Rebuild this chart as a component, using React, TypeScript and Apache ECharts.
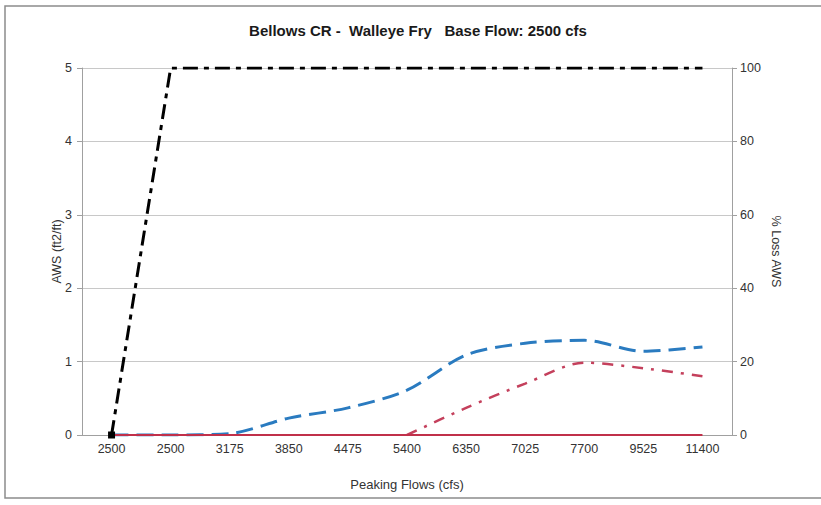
import React, { useEffect, useRef } from "react";
import * as echarts from "echarts";

const categories = ["2500", "2500", "3175", "3850", "4475", "5400", "6350", "7025", "7700", "9525", "11400"];
const awsValues = [0, 0, 0.02, 0.23, 0.37, 0.61, 1.09, 1.25, 1.29, 1.14, 1.2];
const redDashDotValues = [null, null, null, null, null, 0, 7.4, 14, 19.7, 18.2, 16];
const redSolidValues = [0, 0, 0, 0, 0, 0, 0, 0, 0, 0, 0];
const lossValues = [0, 100, 100, 100, 100, 100, 100, 100, 100, 100, 100];
const leftTicks = [0, 1, 2, 3, 4, 5];
const rightTicks = [0, 20, 40, 60, 80, 100];

const FONT = "Liberation Sans, Arial, sans-serif";

export default function App() {
  const ref = useRef<HTMLDivElement>(null);
  useEffect(() => {
    if (!ref.current) return;
    const chart = echarts.init(ref.current, null, { renderer: "svg" });
    const lossData = lossValues.map((v, i) =>
      i === 0 ? { value: v, symbol: "rect", symbolSize: 7 } : { value: v, symbol: "none" }
    );
    chart.setOption({
      animation: false,
      backgroundColor: "#ffffff",
      textStyle: { fontFamily: FONT },
      graphic: [
        {
          type: "polyline",
          shape: { points: [[830, 6], [5, 6], [5, 498], [830, 498]] },
          style: { stroke: "#8c8c8c", fill: "none", lineWidth: 1.5 },
          silent: true,
        },
        {
          type: "text",
          x: 418,
          y: 30,
          style: {
            text: "Bellows CR -  Walleye Fry   Base Flow: 2500 cfs",
            fontFamily: FONT,
            fontSize: 15,
            fontWeight: "bold",
            fill: "#1a1a1a",
            align: "center",
            verticalAlign: "middle",
          },
        },
      ],
      grid: { left: 82, right: 89, top: 68, bottom: 70, containLabel: false },
      xAxis: {
        type: "category",
        data: categories,
        boundaryGap: true,
        name: "Peaking Flows (cfs)",
        nameLocation: "middle",
        nameGap: 43,
        nameTextStyle: { fontSize: 13, color: "#333", fontFamily: FONT },
        axisLine: { show: true, lineStyle: { color: "#a0a0a0", width: 1 } },
        axisTick: { show: false },
        axisLabel: {
          fontSize: 12.5,
          color: "#333",
          fontFamily: FONT,
          margin: 7,
          interval: 0,
          formatter: (_v: string, i: number) => categories[i],
        },
        splitLine: { show: false },
      },
      yAxis: [
        {
          type: "value",
          min: leftTicks[0],
          max: leftTicks[leftTicks.length - 1],
          interval: 1,
          position: "left",
          name: "AWS (ft2/ft)",
          nameLocation: "middle",
          nameGap: 19,
          nameMoveOverlap: false,
          nameTextStyle: { fontSize: 12.5, color: "#333", fontFamily: FONT },
          axisLine: { show: true, lineStyle: { color: "#a0a0a0", width: 1 } },
          axisTick: { show: true, length: 5, lineStyle: { color: "#a0a0a0" } },
          axisLabel: { fontSize: 12.5, color: "#333", fontFamily: FONT, margin: 10 },
          splitLine: { show: true, lineStyle: { color: "#c8c8c8", width: 1 } },
        },
        {
          type: "value",
          min: rightTicks[0],
          max: rightTicks[rightTicks.length - 1],
          interval: 20,
          position: "right",
          name: "% Loss AWS",
          nameLocation: "middle",
          nameGap: 37,
          nameRotate: -90,
          nameMoveOverlap: false,
          nameTextStyle: { fontSize: 12.5, color: "#333", fontFamily: FONT },
          axisLine: { show: true, lineStyle: { color: "#a0a0a0", width: 1 } },
          axisTick: { show: true, length: 5, lineStyle: { color: "#a0a0a0" } },
          axisLabel: { fontSize: 12.5, color: "#333", fontFamily: FONT, margin: 8 },
          splitLine: { show: false },
        },
      ],
      series: [
        {
          name: "AWS",
          type: "line",
          yAxisIndex: 0,
          data: awsValues,
          smooth: 0.3,
          symbol: "none",
          lineStyle: { color: "#2a7bc0", width: 3, type: [17, 8] },
          z: 3,
        },
        {
          name: "Alt",
          type: "line",
          yAxisIndex: 1,
          data: redDashDotValues,
          smooth: 0.3,
          symbol: "none",
          lineStyle: { color: "#c4405c", width: 2.5, type: [11, 8, 3, 8] },
          z: 2,
        },
        {
          name: "Base",
          type: "line",
          yAxisIndex: 0,
          data: redSolidValues,
          symbol: "none",
          lineStyle: { color: "#c0304a", width: 2 },
          z: 4,
        },
        {
          name: "% Loss AWS",
          type: "line",
          yAxisIndex: 1,
          data: lossData,
          showSymbol: true,
          symbol: "none",
          itemStyle: { color: "#000" },
          lineStyle: { color: "#000", width: 3, type: [15, 6, 5, 6] },
          z: 5,
        },
      ],
    });
    return () => chart.dispose();
  }, []);
  return (
    <div
      ref={ref}
      style={{ position: "fixed", left: 0, top: 0, width: 821, height: 505, background: "#fff" }}
    />
  );
}
